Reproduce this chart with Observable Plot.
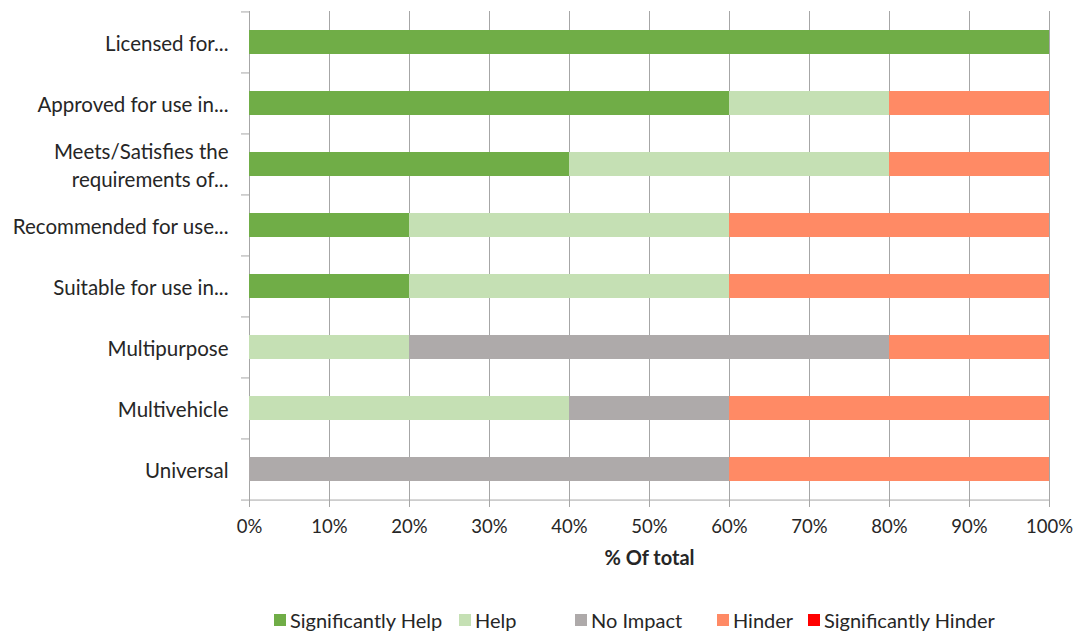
<!DOCTYPE html>
<html>
<head>
<meta charset="utf-8">
<script src="https://cdn.jsdelivr.net/npm/d3@7"></script>
<script src="https://cdn.jsdelivr.net/npm/@observablehq/plot@0.6"></script>
<style>
  html, body { margin: 0; padding: 0; background: #fff; }
  #chart svg { display: block; }
  .legend { position: relative; height: 37px;
    font-family: Lato, "Liberation Sans", sans-serif; font-size: 20px; color: #262626; }
  .legend span.item { position: absolute; top: 13px; display: flex; align-items: center; line-height: 24px; white-space: nowrap; }
  .legend span.sw { width: 12px; height: 12px; margin-right: 4px; display: inline-block; }
</style>
</head>
<body>
<div id="chart"></div>
<script>
const categories = ["Licensed for...", "Approved for use in...", "Meets/Satisfies the\nrequirements of...", "Recommended for use...", "Suitable for use in...", "Multipurpose", "Multivehicle", "Universal"];
const responses = ["Significantly Help", "Help", "No Impact", "Hinder", "Significantly Hinder"];
const sigHelp   = [100, 60, 40, 20, 20,  0,  0,  0];
const help      = [  0, 20, 40, 40, 40, 20, 40,  0];
const noImpact  = [  0,  0,  0,  0,  0, 60, 20, 60];
const hinder    = [  0, 20, 20, 40, 40, 20, 40, 40];
const sigHinder = [  0,  0,  0,  0,  0,  0,  0,  0];
const colors = ["#70AD47", "#C5E0B4", "#AEAAAA", "#FF8A65", "#FF0000"];
const xTicks = [0, 10, 20, 30, 40, 50, 60, 70, 80, 90, 100];

const series = [sigHelp, help, noImpact, hinder, sigHinder];
const rows = [];
categories.forEach((c, i) => responses.forEach((r, j) => rows.push({category: c, response: r, value: series[j][i]})));

const W = 1082, H = 595, mT = 11, mB = 95, mL = 249, mR = 33;
const step = (H - mT - mB) / categories.length;
const font = "Lato, 'Liberation Sans', sans-serif";
const grid = "#a6a6a6";

const chart = Plot.plot({
  width: W, height: H,
  marginTop: mT, marginBottom: mB, marginLeft: mL, marginRight: mR,
  style: {fontFamily: font, fontSize: "18.5px", color: "#262626", background: "#fff"},
  x: {domain: [0, 100], axis: null},
  y: {domain: categories, type: "band", paddingInner: 0.6, paddingOuter: 0.3, axis: null},
  color: {domain: responses, range: colors},
  marks: [
    Plot.ruleX(xTicks, {x: d => d, stroke: grid, strokeWidth: 1, insetBottom: -7}),
    Plot.barX(rows, Plot.stackX({x: "value", y: "category", fill: "response", order: responses})),
    Plot.ruleY(categories, {y: d => d, x1: 0, x2: 0, insetLeft: -8, dy: -step / 2, stroke: grid}),
    Plot.ruleY(categories.slice(-1), {y: d => d, x1: 0, x2: 100, insetLeft: -8, dy: step / 2, stroke: grid}),
    Plot.text(categories, {y: d => d, x: 0, text: d => d, textAnchor: "end", dx: -21, fontSize: 20.5, lineHeight: 1.36, fill: "#262626"}),
    Plot.text(xTicks, {x: d => d, text: d => d + "%", frameAnchor: "bottom", dy: 32, fill: "#262626"}),
    Plot.text(["% Of total"], {text: d => d, frameAnchor: "bottom", dy: 64, fontSize: 20, fontWeight: "bold", fill: "#262626"})
  ]
});
document.getElementById("chart").appendChild(chart);

const legendStarts = [274, 459, 575, 717, 808];
const legend = document.createElement("div");
legend.className = "legend";
responses.forEach((r, i) => {
  const item = document.createElement("span");
  item.className = "item";
  item.style.left = legendStarts[i] + "px";
  const sw = document.createElement("span");
  sw.className = "sw";
  sw.style.background = colors[i];
  item.appendChild(sw);
  item.appendChild(document.createTextNode(r));
  legend.appendChild(item);
});
document.getElementById("chart").appendChild(legend);
</script>
</body>
</html>
